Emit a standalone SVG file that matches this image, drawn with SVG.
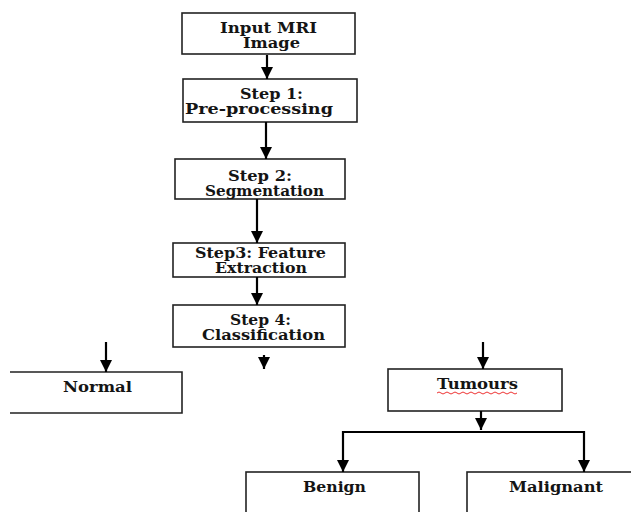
<svg xmlns="http://www.w3.org/2000/svg" width="631" height="512" viewBox="0 0 631 512">
  <defs>
    <marker id="arrow" markerUnits="userSpaceOnUse" markerWidth="14" markerHeight="12" refX="12" refY="6" orient="auto">
      <path d="M0,0 L12,6 L0,12 Z" fill="#000"/>
    </marker>
    <style>
      .box { fill: #fff; stroke: #222; stroke-width: 1.6; }
      .lbl { font-family: "DejaVu Serif", "Liberation Serif", serif; font-weight: bold; font-size: 14px; fill: #141414; }
      .conn line { stroke: #000; stroke-width: 2.2; fill: none; }
    </style>
  </defs>
  <rect width="631" height="512" fill="#fff"/>

  <g id="input">
    <rect class="box" x="182" y="13" width="173" height="41"/>
    <text class="lbl" x="220" y="33" textLength="97" lengthAdjust="spacingAndGlyphs">Input MRI</text>
    <text class="lbl" x="243" y="48" textLength="57" lengthAdjust="spacingAndGlyphs">Image</text>
  </g>

  <g id="step1">
    <rect class="box" x="183" y="79" width="174" height="43"/>
    <text class="lbl" x="240" y="99" textLength="63" lengthAdjust="spacingAndGlyphs">Step 1:</text>
    <text class="lbl" x="185" y="114" textLength="148" lengthAdjust="spacingAndGlyphs">Pre-processing</text>
  </g>

  <g id="step2">
    <rect class="box" x="175" y="159" width="170" height="40"/>
    <text class="lbl" x="228" y="181" textLength="64" lengthAdjust="spacingAndGlyphs">Step 2:</text>
    <text class="lbl" x="205" y="196" textLength="119" lengthAdjust="spacingAndGlyphs">Segmentation</text>
  </g>

  <g id="step3">
    <rect class="box" x="173" y="243" width="172" height="34"/>
    <text class="lbl" x="195" y="258" textLength="131" lengthAdjust="spacingAndGlyphs">Step3: Feature</text>
    <text class="lbl" x="215" y="273" textLength="92" lengthAdjust="spacingAndGlyphs">Extraction</text>
  </g>

  <g id="step4">
    <rect class="box" x="173" y="305" width="172" height="42"/>
    <text class="lbl" x="230" y="325" textLength="61" lengthAdjust="spacingAndGlyphs">Step 4:</text>
    <text class="lbl" x="202" y="340" textLength="123" lengthAdjust="spacingAndGlyphs">Classification</text>
  </g>

  <g id="normal">
    <polyline class="box" fill="none" points="10,372 182,372 182,413 10,413"/>
    <text class="lbl" x="63" y="392" textLength="69" lengthAdjust="spacingAndGlyphs">Normal</text>
  </g>

  <g id="tumours">
    <rect class="box" x="388" y="369" width="174" height="42"/>
    <text class="lbl" x="437" y="389" textLength="81" lengthAdjust="spacingAndGlyphs">Tumours</text>
    <path d="M437,393 q2,-2 4,0 t4,0 t4,0 t4,0 t4,0 t4,0 t4,0 t4,0 t4,0 t4,0 t4,0 t4,0 t4,0 t4,0 t4,0 t4,0 t4,0 t4,0 t4,0 t4,0" fill="none" stroke="#e33" stroke-width="1"/>
  </g>

  <g id="benign">
    <rect class="box" x="246" y="472" width="173" height="60"/>
    <text class="lbl" x="303" y="492" textLength="63" lengthAdjust="spacingAndGlyphs">Benign</text>
  </g>

  <g id="malignant">
    <rect class="box" x="467" y="472" width="190" height="60"/>
    <text class="lbl" x="509" y="492" textLength="94" lengthAdjust="spacingAndGlyphs">Malignant</text>
  </g>

  <g id="connectors" class="conn">
    <line x1="267" y1="55" x2="267" y2="79" marker-end="url(#arrow)"/>
    <line x1="266" y1="122" x2="266" y2="159" marker-end="url(#arrow)"/>
    <line x1="257" y1="199" x2="257" y2="243" marker-end="url(#arrow)"/>
    <line x1="257" y1="277" x2="257" y2="305" marker-end="url(#arrow)"/>
    <line x1="264" y1="355" x2="264" y2="369" marker-end="url(#arrow)"/>
    <line x1="106" y1="342" x2="106" y2="372" marker-end="url(#arrow)"/>
    <line x1="483" y1="342" x2="483" y2="369" marker-end="url(#arrow)"/>
    <line x1="481" y1="411" x2="481" y2="430" marker-end="url(#arrow)"/>
    <line x1="342" y1="432" x2="585" y2="432"/>
    <line x1="343" y1="431" x2="343" y2="472" marker-end="url(#arrow)"/>
    <line x1="584" y1="431" x2="584" y2="472" marker-end="url(#arrow)"/>
  </g>
</svg>
